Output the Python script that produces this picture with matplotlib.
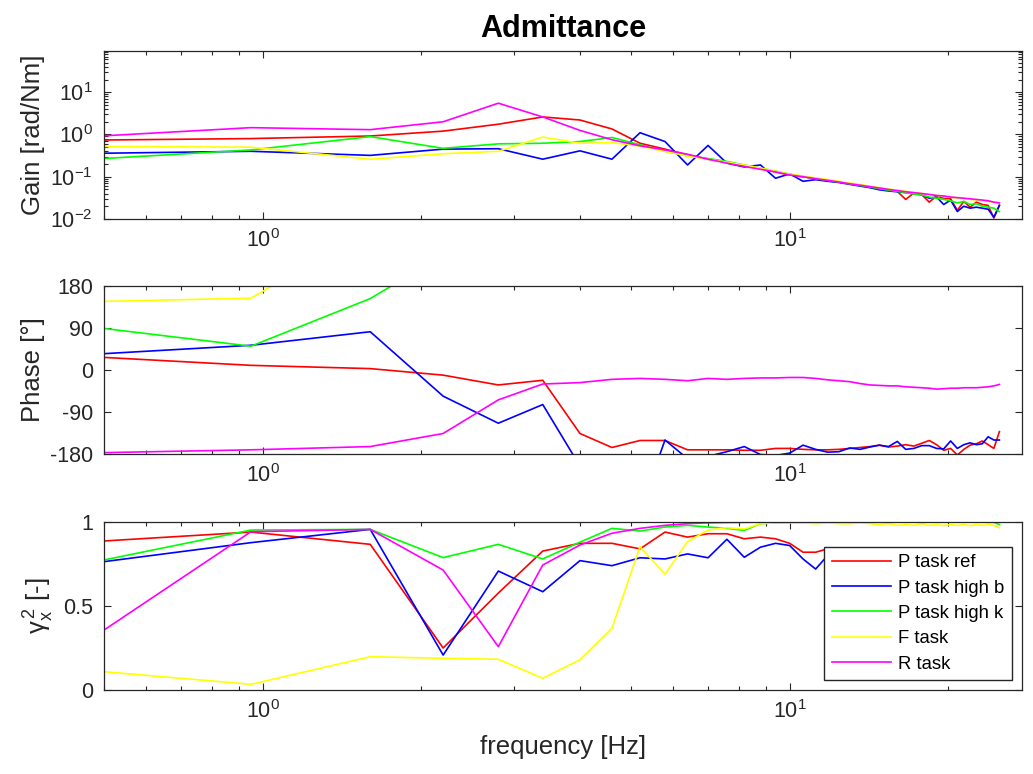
import numpy as np
import matplotlib
matplotlib.use('Agg')
import matplotlib.pyplot as plt
from matplotlib.ticker import LogLocator, NullFormatter, FixedLocator

plt.rcParams['font.family'] = ['Liberation Sans', 'DejaVu Sans']
plt.rcParams['mathtext.fontset'] = 'custom'
plt.rcParams['mathtext.rm'] = 'Liberation Sans'
plt.rcParams['mathtext.it'] = 'Liberation Sans:italic'
plt.rcParams['mathtext.default'] = 'regular'
plt.rcParams['axes.unicode_minus'] = False

freq = [0.5, 0.95, 1.6, 2.2, 2.8, 3.4, 4.0, 4.6, 5.2, 5.8, 6.4, 7.0, 7.6, 8.2, 8.8, 9.4,
        10.0, 10.6, 11.2, 11.8, 12.4, 13.0, 13.6, 14.2, 14.8, 15.4, 16.0, 16.6, 17.2,
        17.8, 18.4, 19.0, 19.6, 20.2, 20.8, 21.4, 22.0, 22.6, 23.2, 23.8, 24.4, 25.0]

labels = ['P task ref', 'P task high b', 'P task high k', 'F task', 'R task']
colors = ['#ff0000', '#0000ff', '#00ff00', '#ffff00', '#ff00ff']

# gain [rad/Nm]
gain_ref = [0.74, 0.80, 0.92, 1.2, 1.75, 2.6, 2.2, 1.35, 0.62, 0.45,
            0.33, 0.26, 0.22, 0.185, 0.155, 0.13, 0.11, 0.10, 0.09, 0.082,
            0.075, 0.068, 0.063, 0.058, 0.053, 0.049, 0.045, 0.029, 0.041, 0.038,
            0.025, 0.035, 0.031, 0.030, 0.016, 0.026, 0.019, 0.025, 0.022, 0.021,
            0.0105, 0.021]
gain_b = [0.36, 0.40, 0.32, 0.45, 0.46, 0.26, 0.41, 0.26, 1.1, 0.68,
          0.19, 0.55, 0.21, 0.17, 0.19, 0.092, 0.117, 0.078, 0.085, 0.078,
          0.073, 0.066, 0.060, 0.055, 0.049, 0.046, 0.044, 0.042, 0.040, 0.037,
          0.031, 0.033, 0.022, 0.028, 0.015, 0.020, 0.018, 0.019, 0.018, 0.017,
          0.011, 0.021]
gain_k = [0.27, 0.43, 0.89, 0.47, 0.60, 0.62, 0.68, 0.85, 0.57, 0.40,
          0.31, 0.27, 0.23, 0.19, 0.16, 0.135, 0.115, 0.10, 0.09, 0.082,
          0.075, 0.068, 0.062, 0.057, 0.052, 0.048, 0.045, 0.042, 0.039, 0.037,
          0.033, 0.031, 0.029, 0.027, 0.024, 0.026, 0.022, 0.023, 0.020, 0.019,
          0.018, 0.015]
gain_f = [0.52, 0.50, 0.26, 0.35, 0.40, 0.87, 0.62, 0.64, 0.53, 0.40,
          0.31, 0.26, 0.22, 0.19, 0.16, 0.135, 0.115, 0.104, 0.094, 0.086,
          0.078, 0.071, 0.065, 0.060, 0.055, 0.051, 0.048, 0.045, 0.042, 0.040,
          0.038, 0.036, 0.034, 0.033, 0.031, 0.030, 0.029, 0.028, 0.027, 0.026,
          0.025, 0.024]
gain_r = [0.93, 1.45, 1.30, 2.0, 5.5, 2.6, 1.25, 0.75, 0.54, 0.43,
          0.34, 0.26, 0.21, 0.175, 0.15, 0.13, 0.11, 0.10, 0.09, 0.082,
          0.075, 0.068, 0.063, 0.058, 0.054, 0.050, 0.047, 0.044, 0.042, 0.040,
          0.038, 0.036, 0.035, 0.033, 0.032, 0.031, 0.030, 0.029, 0.028, 0.027,
          0.025, 0.024]

# phase [deg] (unwrapped, partly outside the shown range)
phase_ref = [27, 10, 3, -11, -32, -22, -136, -166, -151, -151,
             -171, -171, -171, -172, -172, -168, -168, -170, -171, -171,
             -170, -168, -166, -164, -161, -165, -163, -160, -163, -157,
             -151, -160, -172, -168, -182, -170, -161, -158, -152, -160,
             -168, -132]
phase_b = [35, 53, 82, -56, -114, -74, -206, -250, -300, -150,
           -190, -185, -175, -164, -181, -183, -178, -161, -170, -176,
           -175, -167, -170, -165, -161, -164, -153, -170, -168, -162,
           -162, -168, -169, -152, -168, -160, -156, -160, -158, -143,
           -150, -150]
phase_k = [89, 51, 153, 246, 262, 228, 178, 232, 244, 236,
           229, 224, 221, 218, 215, 213, 211, 210, 208, 207,
           206, 205, 204, 203, 202, 201, 200, 200, 199, 198,
           198, 197, 196, 196, 195, 195, 194, 194, 193, 193,
           192, 192]
phase_f = [147, 154, 303, 292, 284, 276, 270, 265, 261, 257,
           254, 251, 248, 246, 244, 242, 240, 238, 236, 235,
           234, 233, 232, 231, 230, 229, 228, 227, 226, 226,
           225, 224, 224, 223, 222, 222, 221, 221, 220, 220,
           219, 219]
phase_r = [-177, -171, -164, -136, -64, -30, -27, -20, -18, -20,
           -23, -18, -20, -18, -17, -17, -16, -16, -18, -21,
           -23, -25, -29, -32, -33, -34, -34, -36, -37, -38,
           -39, -41, -40, -39, -39, -38, -38, -38, -37, -36,
           -34, -31]

# coherence [-]
coh_ref = [0.887, 0.94, 0.867, 0.25, 0.577, 0.827, 0.873, 0.873, 0.84, 0.94,
           0.91, 0.93, 0.93, 0.90, 0.91, 0.90, 0.873, 0.82, 0.82, 0.84,
           0.81, 0.80, 0.82, 0.79, 0.80, 0.81, 0.80, 0.79, 0.81, 0.80,
           0.79, 0.80, 0.81, 0.80, 0.79, 0.80, 0.81, 0.80, 0.79, 0.80,
           0.81, 0.80]
coh_b = [0.764, 0.877, 0.956, 0.208, 0.708, 0.585, 0.77, 0.74, 0.787, 0.78,
         0.81, 0.787, 0.897, 0.79, 0.85, 0.873, 0.86, 0.78, 0.72, 0.80,
         0.76, 0.74, 0.77, 0.75, 0.76, 0.78, 0.75, 0.76, 0.77, 0.74,
         0.76, 0.75, 0.77, 0.76, 0.74, 0.76, 0.77, 0.75, 0.76, 0.78,
         0.76, 0.75]
coh_k = [0.774, 0.952, 0.956, 0.788, 0.867, 0.78, 0.88, 0.962, 0.946, 0.97,
         0.98, 0.97, 0.962, 0.95, 0.99, 0.995, 0.997, 0.998, 0.998, 0.999,
         0.999, 0.999, 0.999, 0.999, 0.999, 0.999, 0.999, 0.999, 0.999, 0.999,
         0.999, 0.999, 0.999, 0.999, 0.999, 0.999, 0.999, 0.999, 0.999, 0.998,
         0.998, 0.985]
coh_f = [0.109, 0.034, 0.198, 0.189, 0.183, 0.07, 0.18, 0.367, 0.853, 0.689,
         0.883, 0.952, 0.966, 0.958, 0.99, 0.995, 0.995, 0.995, 0.99, 0.995,
         0.99, 0.99, 0.995, 0.99, 0.985, 0.99, 0.98, 0.985, 0.98, 0.99,
         0.98, 0.985, 0.978, 0.985, 0.98, 0.985, 0.978, 0.985, 0.98, 0.985,
         0.98, 0.965]
coh_r = [0.357, 0.942, 0.956, 0.714, 0.258, 0.744, 0.863, 0.933, 0.962, 0.98,
         0.99, 0.995, 0.997, 0.998, 0.999, 0.999, 0.999, 0.999, 0.999, 0.999,
         0.999, 0.999, 0.999, 0.999, 0.999, 0.999, 0.999, 0.999, 0.999, 0.999,
         0.999, 0.999, 0.999, 0.999, 0.999, 0.999, 0.999, 0.999, 0.999, 0.999,
         0.999, 0.999]

gains = [gain_ref, gain_b, gain_k, gain_f, gain_r]
phases = [phase_ref, phase_b, phase_k, phase_f, phase_r]
cohs = [coh_ref, coh_b, coh_k, coh_f, coh_r]

axcol = '#262626'
tick_fs = 15.5
label_fs = 18.5
lw = 1.2

fig = plt.figure(figsize=(10.33, 7.74), dpi=100)
left, width, height = 0.1007, 0.8887, 0.2171
ax1 = fig.add_axes([left, 0.7171, width, height])
ax2 = fig.add_axes([left, 0.4134, width, height])
ax3 = fig.add_axes([left, 0.1085, width, height])

for i in range(5):
    ax1.plot(freq, gains[i], color=colors[i], lw=lw)
    ax2.plot(freq, phases[i], color=colors[i], lw=lw)
    ax3.plot(freq, cohs[i], color=colors[i], lw=lw, label=labels[i])

for ax in [ax1, ax2, ax3]:
    ax.set_xscale('log')
    ax.set_xlim(0.5, 27.6)
    ax.xaxis.set_major_locator(FixedLocator([1, 10]))
    ax.set_xticklabels([r'$10^0$', r'$10^1$'])
    ax.xaxis.set_minor_locator(LogLocator(base=10, subs=np.arange(2, 10)))
    ax.xaxis.set_minor_formatter(NullFormatter())
    ax.tick_params(which='both', direction='in', top=True, right=True,
                   colors=axcol, labelsize=tick_fs, width=0.8)
    ax.tick_params(which='major', length=5)
    ax.tick_params(which='minor', length=3)
    ax.tick_params(axis='y', pad=8)
    ax.tick_params(axis='x', pad=7)
    for s in ax.spines.values():
        s.set_color(axcol)
        s.set_linewidth(0.9)

ax1.set_yscale('log')
ax1.set_ylim(0.01, 95)
ax1.yaxis.set_major_locator(FixedLocator([0.01, 0.1, 1, 10]))
ax1.set_yticklabels([r'$10^{-2}$', r'$10^{-1}$', r'$10^0$', r'$10^1$'])
ax1.yaxis.set_minor_locator(LogLocator(base=10, subs=np.arange(2, 10)))
ax1.yaxis.set_minor_formatter(NullFormatter())
ax1.set_ylabel('Gain [rad/Nm]', fontsize=label_fs, color=axcol)
ax1.set_title('Admittance', fontsize=22, fontweight='bold', pad=10)

ax2.set_ylim(-180, 180)
ax2.set_yticks([-180, -90, 0, 90, 180])
ax2.set_ylabel('Phase [°]', fontsize=label_fs, color=axcol)

ax3.set_ylim(0, 1)
ax3.set_yticks([0, 0.5, 1])
ax3.set_yticklabels(['0', '0.5', '1'])
ax3.set_ylabel(r'$\gamma_x^{\,2}$ [-]', fontsize=label_fs, color=axcol)
ax3.set_xlabel('frequency [Hz]', fontsize=label_fs, color=axcol)
ax3.xaxis.set_label_coords(0.5, -0.27)

for ax in [ax1, ax2]:
    ax.yaxis.set_label_coords(-0.064, 0.5)
ax3.yaxis.set_label_coords(-0.052, 0.5)

leg = ax3.legend(loc='lower right', bbox_to_anchor=(0.989, 0.06), borderaxespad=0,
                 fontsize=13.3, handlelength=3.2, handletextpad=0.4,
                 labelspacing=0.45, borderpad=0.4, fancybox=False, framealpha=1)
leg.get_frame().set_edgecolor(axcol)
leg.get_frame().set_linewidth(1.0)

fig.savefig('out.png', dpi=100)
